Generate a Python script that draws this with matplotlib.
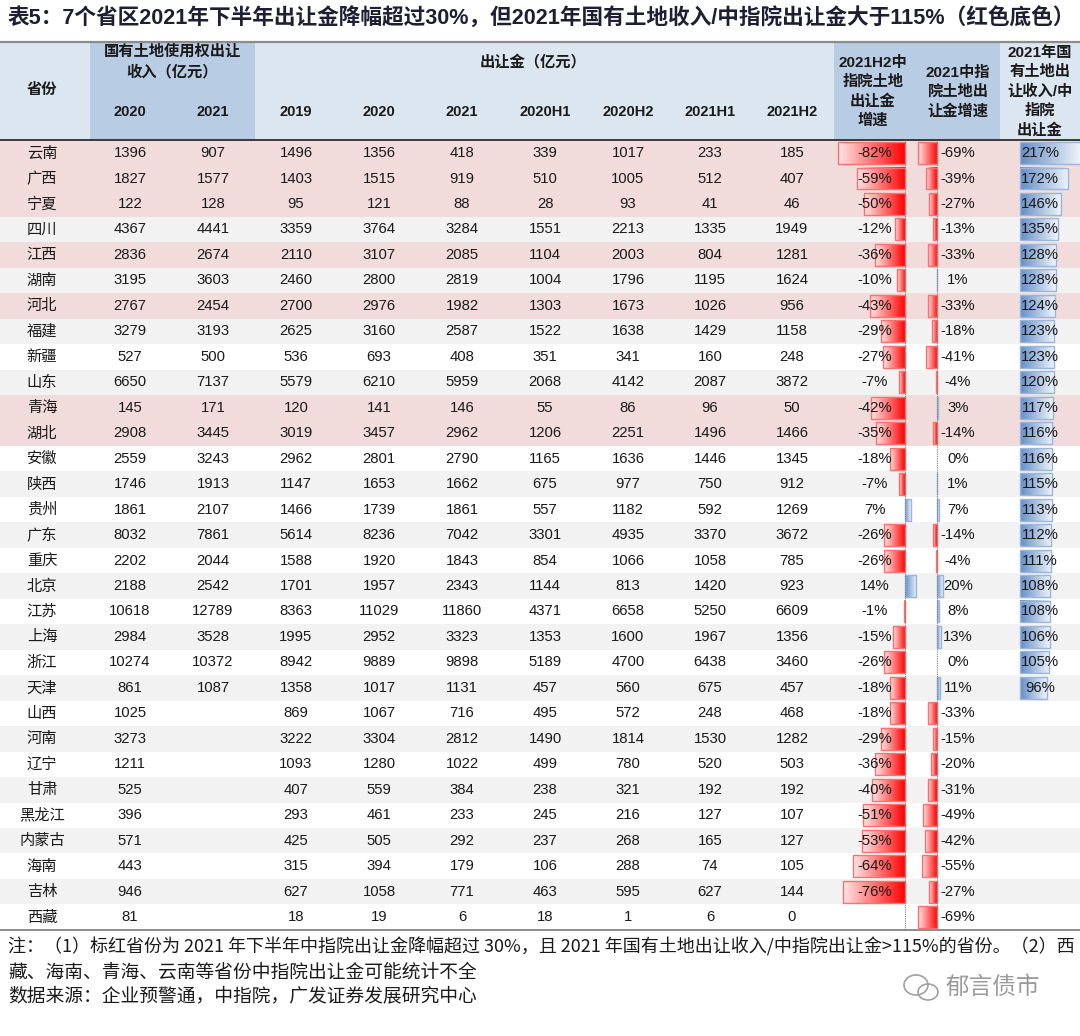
import numpy as np
import matplotlib.pyplot as plt
from matplotlib.patches import Rectangle, Ellipse

provinces = ['云南', '广西', '宁夏', '四川', '江西', '湖南', '河北', '福建', '新疆', '山东',
             '青海', '湖北', '安徽', '陕西', '贵州', '广东', '重庆', '北京', '江苏', '上海',
             '浙江', '天津', '山西', '河南', '辽宁', '甘肃', '黑龙江', '内蒙古', '海南', '吉林', '西藏']

land_2020 = [1396, 1827, 122, 4367, 2836, 3195, 2767, 3279, 527, 6650, 145, 2908, 2559, 1746, 1861,
             8032, 2202, 2188, 10618, 2984, 10274, 861, 1025, 3273, 1211, 525, 396, 571, 443, 946, 81]
land_2021 = [907, 1577, 128, 4441, 2674, 3603, 2454, 3193, 500, 7137, 171, 3445, 3243, 1913, 2107,
             7861, 2044, 2542, 12789, 3528, 10372, 1087] + [None] * 9

sale_2019 = [1496, 1403, 95, 3359, 2110, 2460, 2700, 2625, 536, 5579, 120, 3019, 2962, 1147, 1466,
             5614, 1588, 1701, 8363, 1995, 8942, 1358, 869, 3222, 1093, 407, 293, 425, 315, 627, 18]
sale_2020 = [1356, 1515, 121, 3764, 3107, 2800, 2976, 3160, 693, 6210, 141, 3457, 2801, 1653, 1739,
             8236, 1920, 1957, 11029, 2952, 9889, 1017, 1067, 3304, 1280, 559, 461, 505, 394, 1058, 19]
sale_2021 = [418, 919, 88, 3284, 2085, 2819, 1982, 2587, 408, 5959, 146, 2962, 2790, 1662, 1861,
             7042, 1843, 2343, 11860, 3323, 9898, 1131, 716, 2812, 1022, 384, 233, 292, 179, 771, 6]
sale_2020h1 = [339, 510, 28, 1551, 1104, 1004, 1303, 1522, 351, 2068, 55, 1206, 1165, 675, 557,
               3301, 854, 1144, 4371, 1353, 5189, 457, 495, 1490, 499, 238, 245, 237, 106, 463, 18]
sale_2020h2 = [1017, 1005, 93, 2213, 2003, 1796, 1673, 1638, 341, 4142, 86, 2251, 1636, 977, 1182,
               4935, 1066, 813, 6658, 1600, 4700, 560, 572, 1814, 780, 321, 216, 268, 288, 595, 1]
sale_2021h1 = [233, 512, 41, 1335, 804, 1195, 1026, 1429, 160, 2087, 96, 1496, 1446, 750, 592,
               3370, 1058, 1420, 5250, 1967, 6438, 675, 248, 1530, 520, 192, 127, 165, 74, 627, 6]
sale_2021h2 = [185, 407, 46, 1949, 1281, 1624, 956, 1158, 248, 3872, 50, 1466, 1345, 912, 1269,
               3672, 785, 923, 6609, 1356, 3460, 457, 468, 1282, 503, 192, 107, 127, 105, 144, 0]

growth_h2 = [-82, -59, -50, -12, -36, -10, -43, -29, -27, -7, -42, -35, -18, -7, 7,
             -26, -26, 14, -1, -15, -26, -18, -18, -29, -36, -40, -51, -53, -64, -76, None]
growth_2021 = [-69, -39, -27, -13, -33, 1, -33, -18, -41, -4, 3, -14, 0, 1, 7,
               -14, -4, 20, 8, 13, 0, 11, -33, -15, -20, -31, -49, -42, -55, -27, -69]
land_ratio = [217, 172, 146, 135, 128, 128, 124, 123, 123, 120, 117, 116, 116, 115, 113,
              112, 111, 108, 108, 106, 105, 96] + [None] * 9

highlight = ['云南', '广西', '宁夏', '江西', '河北', '青海', '湖北']

num_cols = [land_2020, land_2021, sale_2019, sale_2020, sale_2021,
            sale_2020h1, sale_2020h2, sale_2021h1, sale_2021h2]
year_labels = ['2020', '2021', '2019', '2020', '2021', '2020H1', '2020H2', '2021H1', '2021H2']

W, H = 1080, 1036
ROW_TOP, ROW_H = 140.3, 25.47
N = len(provinces)
col_x = [130, 213, 296, 379, 462, 545, 628, 710, 792]

CJK = ['Noto Sans CJK SC', 'DejaVu Sans']
MIX = ['Liberation Sans', 'Noto Sans CJK SC']
TXT = '#1a1a1a'

fig = plt.figure(figsize=(10.8, 10.36), dpi=100)
ax = fig.add_axes([0, 0, 1, 1])
ax.set_xlim(0, W)
ax.set_ylim(H, 0)
ax.axis('off')


def row_y(i):
    return ROW_TOP + (i + 0.5) * ROW_H


# header background
ax.add_patch(Rectangle((0, 42), W, 98, color='#dce6f1', lw=0))
ax.add_patch(Rectangle((90, 42), 165, 98, color='#b8cce4', lw=0))
ax.add_patch(Rectangle((834, 42), 166, 98, color='#b8cce4', lw=0))

# row backgrounds
for i, p in enumerate(provinces):
    if p in highlight:
        c = '#f2dcdb'
    elif i % 2 == 1:
        c = '#f2f2f2'
    else:
        c = '#ffffff'
    ax.add_patch(Rectangle((0, ROW_TOP + i * ROW_H), W, ROW_H, color=c, lw=0))

ax.plot([0, W], [42, 42], color='#8c8c8c', lw=1.6)
ax.plot([0, W], [140, 140], color='#3a3a3a', lw=1.4)
ax.plot([0, W], [ROW_TOP + N * ROW_H, ROW_TOP + N * ROW_H], color='#8c8c8c', lw=1.4)


def bar_axes(x0, x1, zero_px, px_per_unit):
    b = fig.add_axes([x0 / W, 1 - (ROW_TOP + N * ROW_H) / H, (x1 - x0) / W, N * ROW_H / H])
    b.patch.set_alpha(0)
    b.axis('off')
    b._lims = ((x0 - zero_px) / px_per_unit, (x1 - zero_px) / px_per_unit)
    return b


def grad_bar(b, v, i, base, edge):
    if v is None or v == 0:
        return
    base = np.array(base) / 255.0
    light = base + (1 - base) * 0.9
    t = np.linspace(0, 1, 80)[:, None]
    if v < 0:
        cols = light * (1 - t) + base * t
    else:
        cols = base * (1 - t) + light * t
    img = cols[None, :, :]
    hh = 0.43
    lo, hi = min(v, 0), max(v, 0)
    b.imshow(img, extent=(lo, hi, i + hh, i - hh), aspect='auto', interpolation='bilinear', zorder=2)
    b.add_patch(Rectangle((lo, i - hh), hi - lo, 2 * hh, fill=False, ec=edge, lw=1.0, zorder=3))


RED, RED_EDGE = (255, 0, 0), '#ff6f6f'
BLUE, BLUE_EDGE = (99, 142, 198), '#9ab5dc'

b1 = bar_axes(834, 922, 905, 0.82)
b2 = bar_axes(915, 1000, 937, 0.28)
b3 = bar_axes(1000, 1080, 1020, 0.28)

for i in range(N):
    g = growth_h2[i]
    if g is not None:
        grad_bar(b1, g, i, RED if g < 0 else BLUE, RED_EDGE if g < 0 else BLUE_EDGE)
    g = growth_2021[i]
    grad_bar(b2, g, i, RED if g < 0 else BLUE, RED_EDGE if g < 0 else BLUE_EDGE)
    r = land_ratio[i]
    if r is not None:
        grad_bar(b3, r, i, BLUE, BLUE_EDGE)

for b in (b1, b2):
    b.axvline(0, color='#7f7f7f', ls=(0, (1, 1)), lw=0.8, zorder=4)

for b in (b1, b2, b3):
    b.set_xlim(*b._lims)
    b.set_ylim(N - 0.5, -0.5)

# overlay for all text
top = fig.add_axes([0, 0, 1, 1])
top.patch.set_alpha(0)
top.set_xlim(0, W)
top.set_ylim(H, 0)
top.axis('off')

top.text(8, 19, '表5：7个省区2021年下半年出让金降幅超过30%，但2021年国有土地收入/中指院出让金大于115%（红色底色）',
         family=MIX, fontsize=15.6, fontweight='bold', color='#1f1f33', va='center', ha='left')

# header text
hb = dict(family=MIX, fontsize=11, fontweight='bold', color=TXT, ha='center', va='center')
top.text(42, 90, '省份', **hb)
top.text(172, 52, '国有土地使用权出让', **hb)
top.text(172, 72, '收入（亿元）', **hb)
top.text(533, 62, '出让金（亿元）', **hb)
for x, lab in zip(col_x, year_labels):
    top.text(x, 112, lab, **{**hb, 'fontsize': 10.5})
for y, s in zip([63, 82, 101, 120], ['2021H2中', '指院土地', '出让金', '增速']):
    top.text(873, y, s, **hb)
for y, s in zip([73, 92, 111], ['2021中指', '院土地出', '让金增速']):
    top.text(958, y, s, **hb)
for y, s in zip([53, 72, 92, 111, 130], ['2021年国', '有土地出', '让收入/中', '指院', '出让金']):
    top.text(1040, y, s, **hb)

# body
for i, p in enumerate(provinces):
    y = row_y(i)
    top.text(42, y, p, family=CJK, fontsize=11, color=TXT, ha='center', va='center')
    for x, col in zip(col_x, num_cols):
        v = col[i]
        if v is not None:
            top.text(x, y, str(v), family=MIX, fontsize=10.7, color=TXT, ha='center', va='center')
    if growth_h2[i] is not None:
        top.text(875, y, f'{growth_h2[i]}%', family=MIX, fontsize=10.7, color=TXT, ha='center', va='center')
    top.text(958, y, f'{growth_2021[i]}%', family=MIX, fontsize=10.7, color=TXT, ha='center', va='center')
    if land_ratio[i] is not None:
        top.text(1040, y, f'{land_ratio[i]}%', family=MIX, fontsize=10.7, color=TXT, ha='center', va='center')

# notes
nk = dict(family=CJK, fontsize=13, color=TXT, ha='left', va='center')
top.text(8, 947, '注：（1）标红省份为 2021 年下半年中指院出让金降幅超过 30%，且 2021 年国有土地出让收入/中指院出让金>115%的省份。（2）西', **nk)
top.text(8, 972, '藏、海南、青海、云南等省份中指院出让金可能统计不全', **{**nk, 'fontsize': 13.5})
top.text(8, 996, '数据来源：企业预警通，中指院，广发证券发展研究中心', **{**nk, 'fontsize': 13.5})

# watermark
top.add_patch(Ellipse((916, 985), 24, 20, fill=False, ec='#a0a0a0', lw=1.2))
top.add_patch(Ellipse((928, 992), 20, 16, fill=False, ec='#a0a0a0', lw=1.2))
top.text(993, 987, '郁言债市', family=CJK, fontsize=17, color='#9a9a9a', ha='center', va='center')

fig.savefig('out.png', dpi=100)
